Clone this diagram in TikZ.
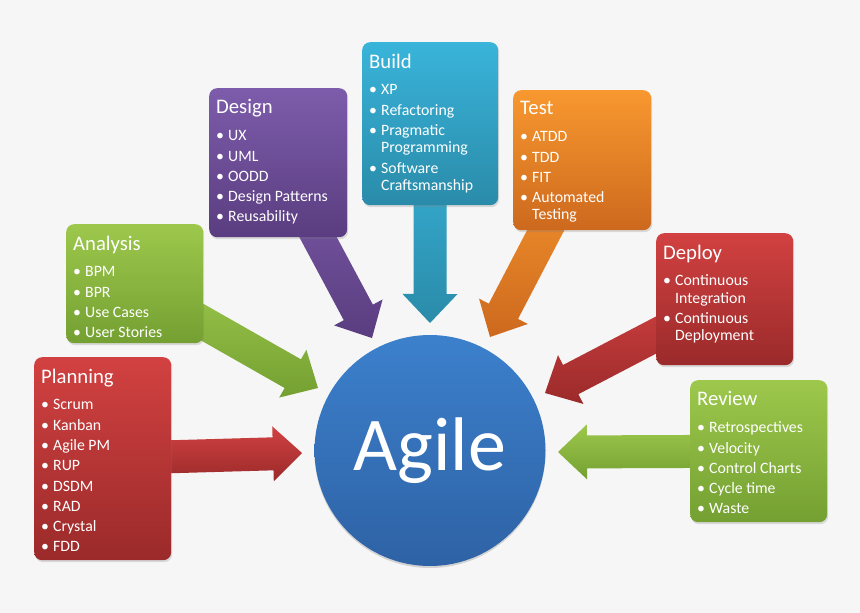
\documentclass[tikz,border=0pt]{standalone}
\usepackage{fontspec}
\setmainfont{Carlito}
\usetikzlibrary{calc,backgrounds,shadows}
\definecolor{bgray}{HTML}{F6F6F6}
\definecolor{redtop}{HTML}{D24141}
\definecolor{redbot}{HTML}{9B2A2A}
\definecolor{grntop}{HTML}{9DC84C}
\definecolor{grnbot}{HTML}{74A032}
\definecolor{purtop}{HTML}{7D5CAB}
\definecolor{purbot}{HTML}{5A3D80}
\definecolor{cyntop}{HTML}{39B4DA}
\definecolor{cynbot}{HTML}{2A8BA9}
\definecolor{orgtop}{HTML}{F8982F}
\definecolor{orgbot}{HTML}{CD691E}
\definecolor{blutop}{HTML}{3C80CC}
\definecolor{blubot}{HTML}{2E62A5}
\newcommand{\bul}[1]{\par\leftskip=12pt\noindent\llap{\makebox[12pt][l]{\textbullet}}#1}
\newcommand{\cardtext}[4]{\parbox[t][#2][t]{#1}{\parindent=0pt\rightskip=0pt plus 1fil\hyphenpenalty=10000
  \vspace{1.5pt}{\fontsize{20.7}{25}\selectfont #3\par}\vspace{6.5pt}\fontsize{15.8}{17.3}\selectfont\parskip=3pt #4}}
\newcommand{\blockarrow}[3]{%
  \coordinate (#3-b) at ($(#3)!29pt!(#2)$);
  \path[#1] ($(#2)!16.5pt!90:(#3)$) -- ($(#3-b)!16.5pt!90:(#3)$) -- ($(#3-b)!27.5pt!90:(#3)$)
    -- (#3) -- ($(#3-b)!27.5pt!-90:(#3)$) -- ($(#3-b)!16.5pt!-90:(#3)$) -- ($(#2)!16.5pt!-90:(#3)$) -- cycle;}
\tikzset{
  card/.style={rounded corners=8pt, anchor=north west, inner xsep=7pt, inner ysep=10pt, text=white,
    drop shadow={opacity=0.25, shadow xshift=1pt, shadow yshift=-2pt}},
  hub/.style={circle, minimum size=231pt, inner sep=0pt, text=white, top color=blutop, bottom color=blubot,
    font=\fontsize{76}{80}\selectfont, drop shadow={opacity=0.3, shadow xshift=0pt, shadow yshift=-2pt}},
  redfill/.style={top color=redtop, bottom color=redbot},
  grnfill/.style={top color=grntop, bottom color=grnbot},
  purfill/.style={top color=purtop, bottom color=purbot},
  cynfill/.style={top color=cyntop, bottom color=cynbot},
  orgfill/.style={top color=orgtop, bottom color=orgbot}
}
\begin{document}
\begin{tikzpicture}[x=1pt, y=-1pt]
\begin{scope}[on background layer]
\fill[bgray] (0,0) rectangle (860,613);
\end{scope}
% the seven practice cards
\node[card, redfill] (plan) at (34,357) {\cardtext{123pt}{183pt}{Planning}{\bul{Scrum}\bul{Kanban}\bul{Agile PM}\bul{RUP}\bul{DSDM}\bul{RAD}\bul{Crystal}\bul{FDD}}};
\node[card, grnfill] (anal) at (66,224) {\cardtext{123pt}{99pt}{Analysis}{\bul{BPM}\bul{BPR}\bul{Use Cases}\bul{User Stories}}};
\node[card, purfill] (design) at (209,88) {\cardtext{124pt}{129pt}{Design}{\bul{UX}\bul{UML}\bul{OODD}\bul{Design Patterns}\bul{Reusability}}};
\node[card, cynfill] (build) at (362,42) {\cardtext{122pt}{143pt}{Build}{\bul{XP}\bul{Refactoring}\bul{Pragmatic\newline Programming}\bul{Software\newline Craftsmanship}}};
\node[card, orgfill] (test) at (513,90) {\cardtext{124pt}{120pt}{Test}{\bul{ATDD}\bul{TDD}\bul{FIT}\bul{Automated\newline Testing}}};
\node[card, redfill] (deploy) at (656,233) {\cardtext{123pt}{112pt}{Deploy}{\bul{Continuous\newline Integration}\bul{Continuous\newline Deployment}}};
\node[card, grnfill] (review) at (690,380) {\cardtext{123pt}{122pt}{Review}{\bul{Retrospectives}\bul{Velocity}\bul{Control Charts}\bul{Cycle time}\bul{Waste}}};
\node[hub] (agile) at (430,450.5) {Agile};
% arrow tips
\coordinate (tplan) at (302,453);
\coordinate (tanal) at (318,388);
\coordinate (tdesign) at (372,338);
\coordinate (tbuild) at (430,323);
\coordinate (ttest) at (490,337);
\coordinate (tdeploy) at (545,393);
\coordinate (treview) at (558,452);
\begin{scope}[on background layer]
\blockarrow{redfill}{plan.center}{tplan}
\blockarrow{grnfill}{anal.center}{tanal}
\blockarrow{purfill}{design.center}{tdesign}
\blockarrow{cynfill}{build.center}{tbuild}
\blockarrow{orgfill}{test.center}{ttest}
\blockarrow{redfill}{deploy.center}{tdeploy}
\blockarrow{grnfill}{review.center}{treview}
\end{scope}
\end{tikzpicture}
\end{document}
